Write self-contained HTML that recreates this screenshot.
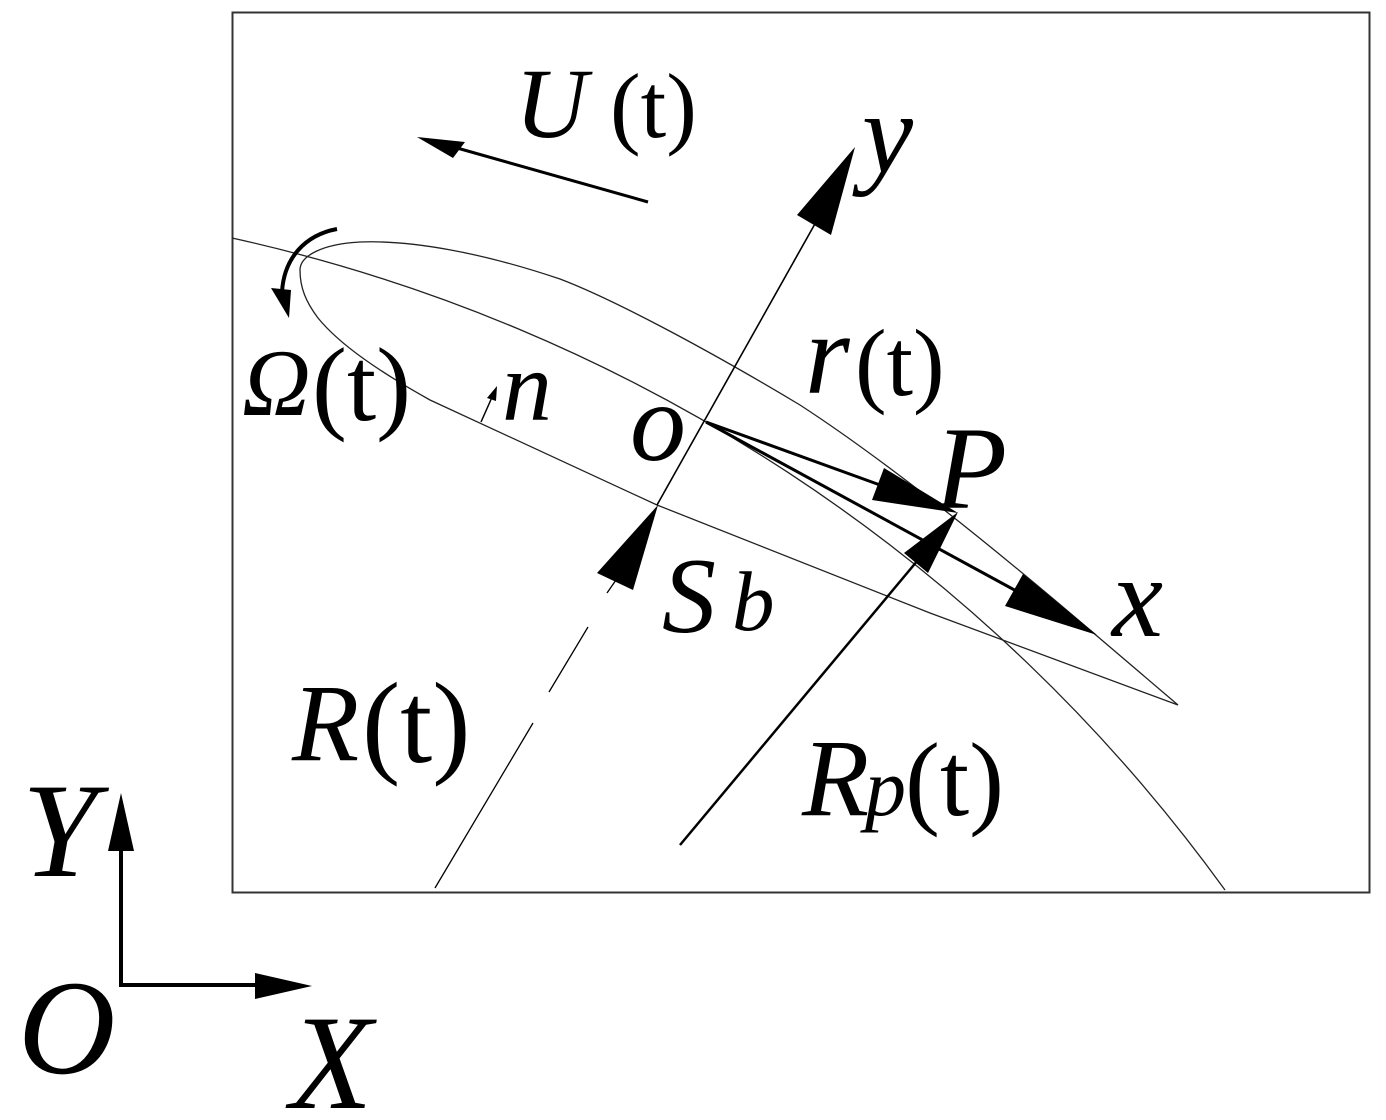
<!DOCTYPE html>
<html><head><meta charset="utf-8"><style>
html,body{margin:0;padding:0;background:#fff;}
svg{display:block;}
text{font-family:"Liberation Serif",serif;fill:#000;}
.i{font-style:italic;}
</style></head><body>
<svg width="1386" height="1120" viewBox="0 0 1386 1120" xmlns="http://www.w3.org/2000/svg">
<rect x="232.5" y="12.5" width="1137" height="880" fill="none" stroke="#333" stroke-width="2"/>
<path d="M232,238 A1670,1670 0 0 1 1225,890" fill="none" stroke="#222" stroke-width="1.3"/>
<path d="M1178,705 L1097,636 C1020,570 900,470 800,405 C700,345 610,298 560,279 C480,252 410,240 360,242 C322,244 300,256 300,270 C300,288 306,302 318,318 C340,345 380,372 430,400 L657,505 L930,613 Z" fill="none" stroke="#222" stroke-width="1.3"/>
<line x1="657" y1="505" x2="816" y2="222" stroke="#000" stroke-width="1.6"/>
<polygon points="855,147 797,215 831,235" fill="#000"/>
<line x1="706" y1="422" x2="1020" y2="593" stroke="#000" stroke-width="3"/>
<polygon points="1097,635 1005,606 1023,574" fill="#000"/>
<line x1="706" y1="422" x2="880" y2="485" stroke="#000" stroke-width="3"/>
<polygon points="958,513 872,500 884,468" fill="#000"/>
<line x1="680" y1="845" x2="918" y2="560" stroke="#000" stroke-width="2.5"/>
<polygon points="958,512 928,573 904,553" fill="#000"/>
<line x1="435" y1="888" x2="533" y2="723" stroke="#000" stroke-width="1.3"/>
<line x1="549" y1="692" x2="588" y2="627" stroke="#000" stroke-width="1.3"/>
<line x1="607" y1="593" x2="616" y2="580" stroke="#000" stroke-width="1.3"/>
<polygon points="658,505 597,573 633,590" fill="#000"/>
<line x1="648" y1="202" x2="450" y2="146" stroke="#000" stroke-width="3"/>
<polygon points="417,137 453,158 465,142" fill="#000"/>
<path d="M337,229 C305,235 284,258 282,292" fill="none" stroke="#000" stroke-width="4"/>
<polygon points="289,318 271,288 291,290" fill="#000"/>
<line x1="481" y1="422" x2="493" y2="395" stroke="#000" stroke-width="1.5"/>
<polygon points="497,386 487,398 496,401" fill="#000"/>
<line x1="121" y1="987" x2="121" y2="845" stroke="#000" stroke-width="4"/>
<polygon points="121,793 108,851 134,851" fill="#000"/>
<line x1="119" y1="985" x2="260" y2="985" stroke="#000" stroke-width="4"/>
<polygon points="312,986 255,973 255,999" fill="#000"/>
<text x="515" y="137" font-size="100" class="i">U</text>
<text x="610" y="137" font-size="92">(t)</text>
<text x="862" y="172" font-size="115" class="i">y</text>
<text x="805" y="393" font-size="115" class="i">r</text>
<text x="855" y="395" font-size="95">(t)</text>
<text x="242" y="415" font-size="95" class="i">Ω</text>
<text x="312" y="420" font-size="105">(t)</text>
<text x="502" y="420" font-size="100" class="i">n</text>
<text x="630" y="460" font-size="112" class="i">o</text>
<text x="935" y="508" font-size="118" class="i">P</text>
<text x="1112" y="636" font-size="115" class="i">x</text>
<text x="662" y="632" font-size="108" class="i">S</text>
<text x="732" y="630" font-size="85" class="i">b</text>
<text x="292" y="760" font-size="110" class="i">R</text>
<text x="362" y="762" font-size="115">(t)</text>
<text x="802" y="815" font-size="110" class="i">R</text>
<text x="865" y="815" font-size="82" class="i">p</text>
<text x="905" y="815" font-size="105">(t)</text>
<text x="22" y="876" font-size="135" class="i">Y</text>
<text x="18" y="1073" font-size="135" class="i">O</text>
<text x="290" y="1108" font-size="135" class="i">X</text>
</svg>
</body></html>
